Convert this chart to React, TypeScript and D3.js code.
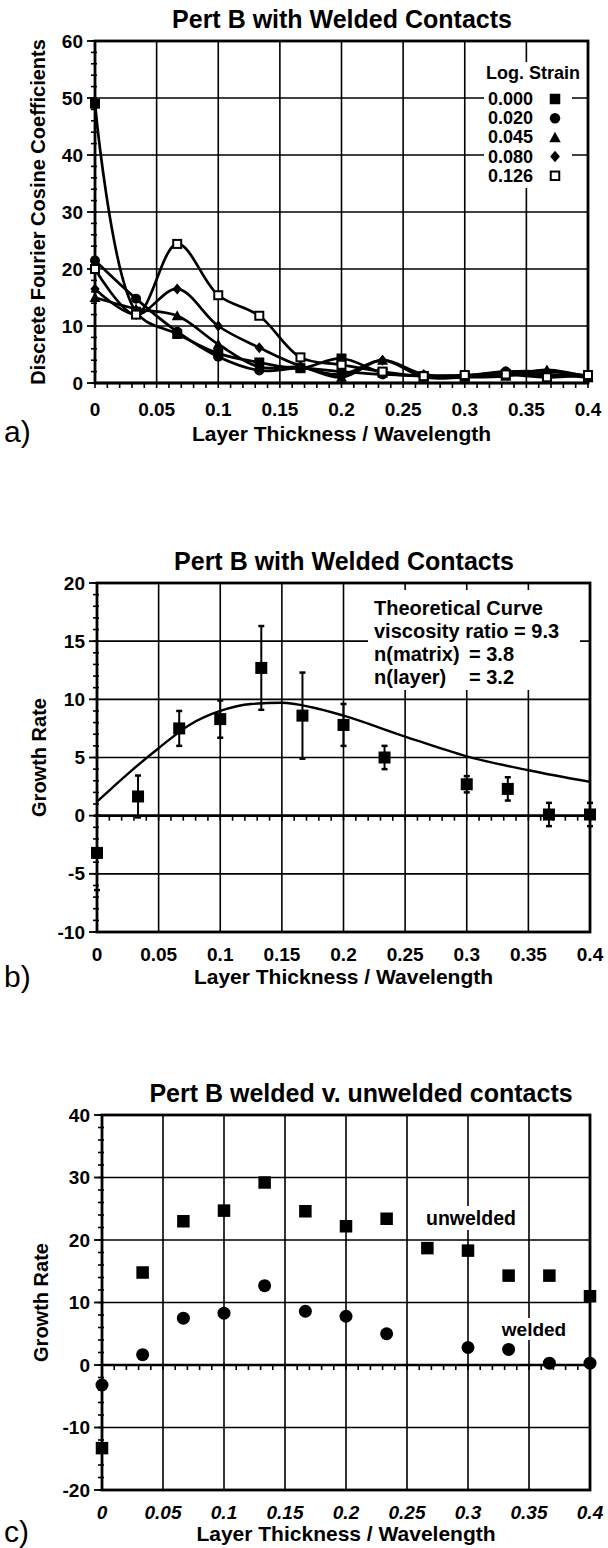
import React from "react";
import * as d3 from "d3";

const FONT = "'Liberation Sans', Arial, Helvetica, sans-serif";

// ---------- shared x axis ----------
const xTicks = [0, 0.05, 0.1, 0.15, 0.2, 0.25, 0.3, 0.35, 0.4];
const xTickLabels = ["0", "0.05", "0.1", "0.15", "0.2", "0.25", "0.3", "0.35", "0.4"];
const xSamples = [0, 0.0333, 0.0667, 0.1, 0.1333, 0.1667, 0.2, 0.2333, 0.2667, 0.3, 0.3333, 0.3667, 0.4];

// ---------- panel a ----------
const aYTicks = [0, 10, 20, 30, 40, 50, 60];
const strainLabels = ["0.000", "0.020", "0.045", "0.080", "0.126"];
const strainSymbols = ["sq", "circle", "tri", "diamond", "osq"];
const strain000 = [49, 12.5, 8.6, 5.2, 3.6, 2.6, 4.3, 1.8, 1.2, 1.2, 1.6, 1.4, 1.0];
const strain020 = [21.5, 14.8, 9.0, 4.6, 2.2, 2.6, 2.0, 1.5, 1.3, 1.3, 2.0, 1.5, 1.2];
const strain045 = [15.0, 13.0, 11.8, 6.8, 2.8, 2.8, 1.0, 4.0, 1.0, 1.0, 1.2, 2.3, 1.0];
const strain080 = [16.5, 12.0, 16.5, 10.0, 6.2, 3.0, 1.5, 4.0, 1.5, 1.2, 2.0, 2.0, 1.3];
const strain126 = [20.0, 12.0, 24.4, 15.4, 11.8, 4.5, 3.2, 2.0, 1.2, 1.4, 1.5, 1.0, 1.4];
const strainSeries = [strain000, strain020, strain045, strain080, strain126];

// ---------- panel b ----------
const bYTicks = [-10, -5, 0, 5, 10, 15, 20];
const bX = [0, 0.0333, 0.0667, 0.1, 0.1333, 0.1667, 0.2, 0.2333, 0.3, 0.3333, 0.3667, 0.4];
const bY = [-3.2, 1.65, 7.5, 8.3, 12.7, 8.6, 7.8, 5.0, 2.7, 2.3, 0.1, 0.1];
const bErr = [3.2, 1.8, 1.5, 1.6, 3.6, 3.7, 1.8, 1.0, 0.7, 1.0, 1.0, 1.0];
const theoX = [0, 0.025, 0.05, 0.075, 0.1, 0.125, 0.15, 0.175, 0.2, 0.25, 0.3, 0.35, 0.4];
const theoY = [1.2, 3.6, 5.8, 7.8, 9.0, 9.6, 9.7, 9.3, 8.6, 6.8, 5.1, 3.9, 2.9];
const theoLines = ["Theoretical Curve", "viscosity ratio = 9.3", "n(matrix)", "n(layer)"];
const theoValues = ["", "", "= 3.8", "= 3.2"];

// ---------- panel c ----------
const cYTicks = [-20, -10, 0, 10, 20, 30, 40];
const unweldedX = xSamples;
const unweldedY = [-13.3, 14.8, 23.0, 24.7, 29.2, 24.6, 22.2, 23.4, 18.7, 18.3, 14.3, 14.3, 11.0];
const weldedX = bX;
const weldedY = [-3.2, 1.65, 7.5, 8.3, 12.7, 8.6, 7.8, 5.0, 2.8, 2.5, 0.3, 0.3];

type Frame = {
  left: number; right: number; top: number; bottom: number;
  yDomain: [number, number]; yTicks: number[]; yMinorStep: number;
  title: string; titleX: number; titleY: number;
  yLabel: string; yLabelX: number;
  tickLabelY: number; xTitleY: number; letter: string; letterY: number;
  italicX?: boolean;
};

function Marker({ type, x, y, s }: { type: string; x: number; y: number; s: number }) {
  if (type === "sq") return <rect x={x - s / 2} y={y - s / 2} width={s} height={s} fill="#000" />;
  if (type === "osq")
    return <rect x={x - s / 2 + 1} y={y - s / 2 + 1} width={s - 2} height={s - 2} fill="#fff" stroke="#000" strokeWidth={2} />;
  if (type === "circle") return <circle cx={x} cy={y} r={s / 2} fill="#000" />;
  if (type === "tri") {
    const h = s * 0.9;
    return <path d={`M${x},${y - h / 2 - 1}L${x + s / 2 + 0.5},${y + h / 2}L${x - s / 2 - 0.5},${y + h / 2}Z`} fill="#000" />;
  }
  if (type === "diamond") {
    const r = s / 2 + 0.5;
    return <path d={`M${x},${y - r}L${x + r * 0.85},${y}L${x},${y + r}L${x - r * 0.85},${y}Z`} fill="#000" />;
  }
  return null;
}

function Axes({ f, x, y, children }: { f: Frame; x: d3.ScaleLinear<number, number>; y: d3.ScaleLinear<number, number>; children?: React.ReactNode }) {
  const minorY = d3.range(f.yDomain[0], f.yDomain[1] + 1e-9, f.yMinorStep);
  const minorX = d3.range(0, 0.4001, 0.01);
  const y0 = y(0);
  return (
    <g>
      {xTicks.map((t, i) => (
        <line key={"gx" + i} x1={x(t)} x2={x(t)} y1={f.top} y2={f.bottom} stroke="#000" strokeWidth={1.6} />
      ))}
      {f.yTicks.map((t, i) => (
        <line key={"gy" + i} x1={f.left} x2={f.right} y1={y(t)} y2={y(t)} stroke="#000" strokeWidth={t === 0 ? 2.6 : 1.6} />
      ))}
      <rect x={f.left} y={f.top} width={f.right - f.left} height={f.bottom - f.top} fill="none" stroke="#000" strokeWidth={2.8} />
      {minorY.map((t, i) => (
        <line key={"my" + i} x1={f.left - 4} x2={f.left + 2} y1={y(t)} y2={y(t)} stroke="#000" strokeWidth={1.6} />
      ))}
      {f.yTicks.map((t, i) => (
        <line key={"My" + i} x1={f.left - 8} x2={f.left} y1={y(t)} y2={y(t)} stroke="#000" strokeWidth={1.8} />
      ))}
      {minorX.map((t, i) => (
        <line key={"mx" + i} x1={x(t)} x2={x(t)} y1={y0} y2={y0 + 5} stroke="#000" strokeWidth={1.6} />
      ))}
      {f.yTicks.map((t, i) => (
        <text key={"ly" + i} x={f.left - 12} y={y(t)} textAnchor="end" dominantBaseline="central"
          fontFamily={FONT} fontWeight="bold" fontSize={19}>{t}</text>
      ))}
      {xTicks.map((t, i) => (
        <text key={"lx" + i} x={x(t)} y={f.tickLabelY} textAnchor="middle" dominantBaseline="central"
          fontFamily={FONT} fontWeight="bold" fontStyle={f.italicX ? "italic" : "normal"} fontSize={19}>{xTickLabels[i]}</text>
      ))}
      <text x={f.titleX} y={f.titleY} textAnchor="middle" dominantBaseline="central" fontFamily={FONT} fontWeight="bold" fontSize={25}>{f.title}</text>
      <text x={(f.left + f.right) / 2} y={f.xTitleY} textAnchor="middle" dominantBaseline="central" fontFamily={FONT} fontWeight="bold" fontSize={21}>Layer Thickness / Wavelength</text>
      <text transform={`translate(${f.yLabelX},${(f.top + f.bottom) / 2}) rotate(-90)`} textAnchor="middle" dominantBaseline="central"
        fontFamily={FONT} fontWeight="bold" fontSize={20}>{f.yLabel}</text>
      <text x={4} y={f.letterY} fontFamily={FONT} fontSize={30}>{f.letter}</text>
      {children}
    </g>
  );
}

function PanelA() {
  const f: Frame = {
    left: 95, right: 588, top: 41, bottom: 383, yDomain: [0, 60], yTicks: aYTicks, yMinorStep: 2,
    title: "Pert B with Welded Contacts", titleX: 342, titleY: 19, yLabel: "Discrete Fourier Cosine Coefficients", yLabelX: 38,
    tickLabelY: 409, xTitleY: 433, letter: "a)", letterY: 442,
  };
  const x = d3.scaleLinear().domain([0, 0.4]).range([f.left, f.right]);
  const y = d3.scaleLinear().domain(f.yDomain).range([f.bottom, f.top]);
  const line = d3.line<number>().x((_, i) => x(xSamples[i])).y((d) => y(d)).curve(d3.curveCatmullRom.alpha(0.5));
  const legX = 488, legSym = 555;
  return (
    <Axes f={f} x={x} y={y}>
      {strainSeries.map((s, k) => (
        <path key={"l" + k} d={line(s) || ""} fill="none" stroke="#000" strokeWidth={2.7} />
      ))}
      {strainSeries.map((s, k) =>
        s.map((v, i) => <Marker key={k + "-" + i} type={strainSymbols[k]} x={x(xSamples[i])} y={y(v)} s={10} />)
      )}
      <rect x={484} y={62} width={88} height={126} fill="#fff" />
      <text x={486} y={73} dominantBaseline="central" fontFamily={FONT} fontWeight="bold" fontSize={18}>Log. Strain</text>
      {strainLabels.map((l, i) => (
        <g key={"lg" + i}>
          <text x={legX} y={99 + i * 19.2} dominantBaseline="central" fontFamily={FONT} fontWeight="bold" fontSize={18}>{l}</text>
          <Marker type={strainSymbols[i]} x={legSym} y={99 + i * 19.2} s={10.5} />
        </g>
      ))}
    </Axes>
  );
}

function PanelB() {
  const f: Frame = {
    left: 97, right: 590, top: 583, bottom: 932, yDomain: [-10, 20], yTicks: bYTicks, yMinorStep: 1,
    title: "Pert B with Welded Contacts", titleX: 344, titleY: 561, yLabel: "Growth Rate", yLabelX: 39,
    tickLabelY: 954, xTitleY: 976, letter: "b)", letterY: 987,
  };
  const x = d3.scaleLinear().domain([0, 0.4]).range([f.left, f.right]);
  const y = d3.scaleLinear().domain(f.yDomain).range([f.bottom, f.top]);
  const curve = d3.line<number>().x((_, i) => x(theoX[i])).y((d) => y(d)).curve(d3.curveMonotoneX);
  return (
    <Axes f={f} x={x} y={y}>
      <rect x={368} y={590} width={212} height={100} fill="#fff" />
      <path d={curve(theoY) || ""} fill="none" stroke="#000" strokeWidth={2.4} />
      {bY.map((v, i) => {
        const cx = x(bX[i]);
        const yt = y(v + bErr[i]);
        const yb = y(v - bErr[i]);
        return (
          <g key={"e" + i}>
            <line x1={cx} x2={cx} y1={yt} y2={yb} stroke="#000" strokeWidth={2} />
            <line x1={cx - 3} x2={cx + 3} y1={yt} y2={yt} stroke="#000" strokeWidth={2.5} />
            <line x1={cx - 3} x2={cx + 3} y1={yb} y2={yb} stroke="#000" strokeWidth={2.5} />
            <Marker type="sq" x={cx} y={y(v)} s={12} />
          </g>
        );
      })}
      {theoLines.map((t, i) => (
        <g key={"t" + i}>
          <text x={374} y={608 + i * 23} dominantBaseline="central" fontFamily={FONT} fontWeight="bold" fontSize={20}>{t}</text>
          <text x={469} y={608 + i * 23} dominantBaseline="central" fontFamily={FONT} fontWeight="bold" fontSize={20}>{theoValues[i]}</text>
        </g>
      ))}
    </Axes>
  );
}

function PanelC() {
  const f: Frame = {
    left: 102, right: 590, top: 1115, bottom: 1490, yDomain: [-20, 40], yTicks: cYTicks, yMinorStep: 2,
    title: "Pert B welded v. unwelded contacts", titleX: 361, titleY: 1093, yLabel: "Growth Rate", yLabelX: 41,
    tickLabelY: 1512, xTitleY: 1533, letter: "c)", letterY: 1542, italicX: true,
  };
  const x = d3.scaleLinear().domain([0, 0.4]).range([f.left, f.right]);
  const y = d3.scaleLinear().domain(f.yDomain).range([f.bottom, f.top]);
  return (
    <Axes f={f} x={x} y={y}>
      <rect x={422} y={1206} width={98} height={24} fill="#fff" />
      <rect x={501} y={1318} width={66} height={22} fill="#fff" />
      {unweldedY.map((v, i) => (
        <Marker key={"u" + i} type="sq" x={x(unweldedX[i])} y={y(v)} s={12.5} />
      ))}
      {weldedY.map((v, i) => (
        <Marker key={"w" + i} type="circle" x={x(weldedX[i])} y={y(v)} s={13} />
      ))}
      <text x={471} y={1218} textAnchor="middle" dominantBaseline="central" fontFamily={FONT} fontWeight="bold" fontSize={19.5}>unwelded</text>
      <text x={534} y={1329} textAnchor="middle" dominantBaseline="central" fontFamily={FONT} fontWeight="bold" fontSize={19}>welded</text>
    </Axes>
  );
}

export default function App() {
  return (
    <svg width={608} height={1548} viewBox="0 0 608 1548" style={{ position: "absolute", left: 0, top: 0, background: "#fff" }}>
      <rect width={608} height={1548} fill="#fff" />
      <PanelA />
      <PanelB />
      <PanelC />
    </svg>
  );
}
